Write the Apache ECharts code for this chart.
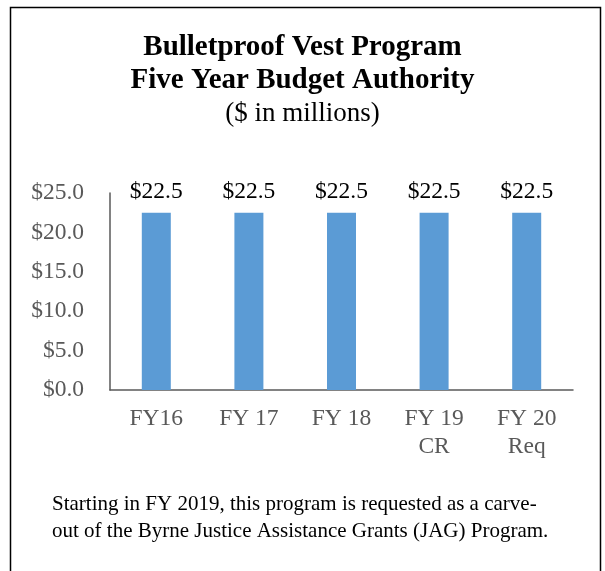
<!DOCTYPE html>
<html>
<head>
<meta charset="utf-8">
<script src="https://cdn.jsdelivr.net/npm/echarts@6/dist/echarts.min.js"></script>
<style>
  html, body { margin: 0; padding: 0; background: #fff; }
  #chart { width: 605px; height: 571px; }
</style>
</head>
<body>
<div id="chart"></div>
<script>
// data
var years = ['FY16', 'FY 17', 'FY 18', 'FY 19\nCR', 'FY 20\nReq'];
var budget = [22.5, 22.5, 22.5, 22.5, 22.5];
var yTicks = [0, 5, 10, 15, 20, 25];

var serif = '"Liberation Serif", "Times New Roman", serif';

var chart = echarts.init(document.getElementById('chart'));
chart.setOption({
  animation: false,
  title: {
    text: 'Bulletproof Vest Program\nFive Year Budget Authority',
    subtext: '($ in millions)',
    left: 'center',
    top: 26,
    itemGap: 0,
    textStyle: { fontFamily: serif, fontSize: 29, fontWeight: 'bold', color: '#000', lineHeight: 33 },
    subtextStyle: { fontFamily: serif, fontSize: 27, color: '#000', lineHeight: 33 }
  },
  grid: { left: 110, right: 32, top: 193, bottom: 181 },
  xAxis: {
    type: 'category',
    data: years,
    axisTick: { show: false },
    axisLine: { lineStyle: { color: '#595959', width: 1.5 } },
    axisLabel: { fontFamily: serif, fontSize: 23.5, color: '#595959', margin: 15, lineHeight: 28 }
  },
  yAxis: {
    type: 'value',
    min: yTicks[0],
    max: yTicks[yTicks.length - 1],
    interval: 5,
    splitLine: { show: false },
    axisTick: { show: false },
    axisLine: { show: true, lineStyle: { color: '#595959', width: 1.5 } },
    axisLabel: {
      fontFamily: serif, fontSize: 23.5, color: '#595959', margin: 26,
      formatter: function (v) { return '$' + v.toFixed(1); }
    }
  },
  series: [{
    type: 'bar',
    data: budget,
    barWidth: 29,
    itemStyle: { color: '#5B9BD5' },
    label: {
      show: true, position: 'top', distance: 9,
      fontFamily: serif, fontSize: 23.5, color: '#000',
      formatter: function (p) { return '$' + p.value.toFixed(1); }
    }
  }],
  graphic: [
    {
      type: 'rect',
      shape: { x: 10.5, y: 7.5, width: 590, height: 600 },
      style: { fill: 'none', stroke: '#000', lineWidth: 1.5 },
      silent: true
    },
    {
      type: 'text',
      left: 52, top: 491,
      style: {
        text: 'Starting in FY 2019, this program is requested as a carve-\nout of the Byrne Justice Assistance Grants (JAG) Program.',
        font: '21px ' + serif, fill: '#000', lineHeight: 27
      }
    }
  ]
});
</script>
</body>
</html>
